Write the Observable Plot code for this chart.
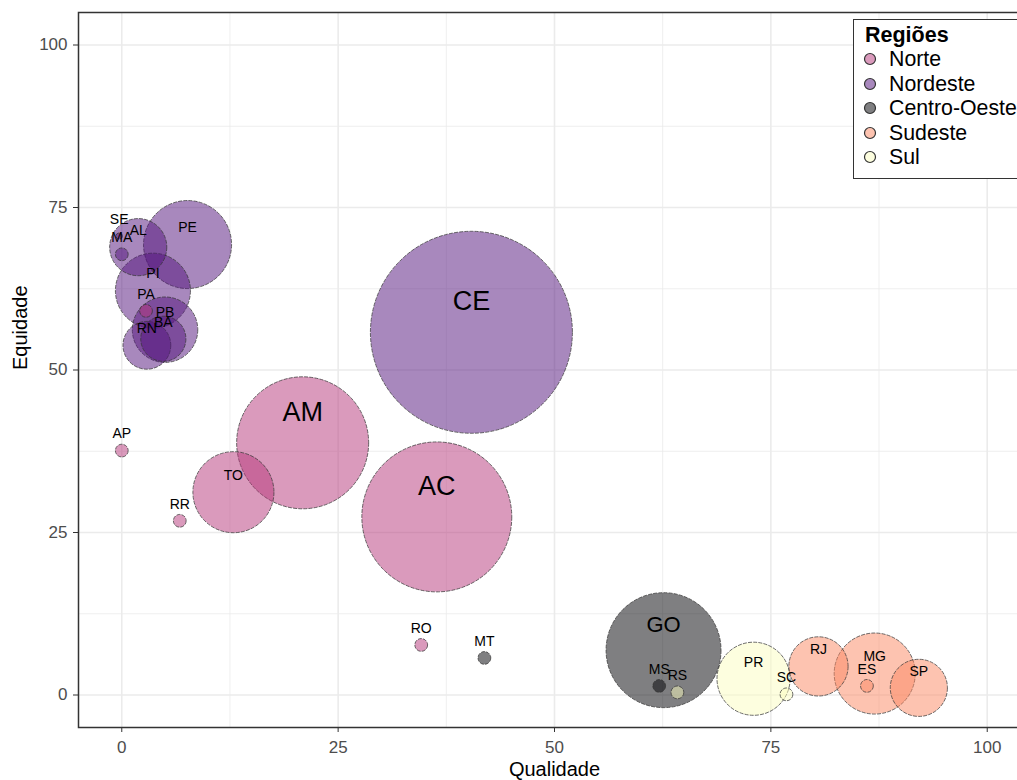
<!DOCTYPE html>
<html>
<head>
<meta charset="utf-8">
<script src="https://cdn.jsdelivr.net/npm/d3@7"></script>
<script src="https://cdn.jsdelivr.net/npm/@observablehq/plot@0.6"></script>
<style>
  html, body { margin: 0; padding: 0; background: white; overflow: hidden; }
  #wrap { position: relative; width: 1045px; height: 780px; font-family: "Liberation Sans", Arial, sans-serif; }
  #wrap svg { max-width: none !important; }
  #legend { position: absolute; left: 853px; top: 19px; width: 320px; height: 160px; border: 1px solid #333; border-right: none; background: white; box-sizing: border-box; }
  #legend .title { font-weight: bold; font-size: 21.5px; line-height: 24px; padding-left: 11px; margin-top: 3px; height: 24px; }
  #legend .row { font-size: 21.3px; line-height: 24.5px; height: 24.5px; display: flex; align-items: center; white-space: nowrap; }
  #legend .row:first-of-type { margin-top: 2px; }
  #legend .row svg { margin-left: 9px; margin-right: 12px; }
</style>
</head>
<body>
<div id="wrap"></div>
<script>
// ---- data ----
const estados   = ["AC","AM","AP","PA","RO","RR","TO","AL","BA","CE","MA","PB","PE","PI","RN","SE","GO","MS","MT","ES","MG","RJ","SP","PR","RS","SC"];
const regioes   = ["Norte","Norte","Norte","Norte","Norte","Norte","Norte",
                   "Nordeste","Nordeste","Nordeste","Nordeste","Nordeste","Nordeste","Nordeste","Nordeste","Nordeste",
                   "Centro-Oeste","Centro-Oeste","Centro-Oeste",
                   "Sudeste","Sudeste","Sudeste","Sudeste",
                   "Sul","Sul","Sul"];
const qualidade = [36.4,20.9,0,2.8,34.6,6.7,12.9, 1.9,4.8,40.4,0,5.0,7.6,3.6,2.9,-0.3, 62.6,62.1,41.9, 86.1,87.0,80.5,92.1, 73.0,64.2,76.8];
const equidade  = [27.4,38.8,37.6,59.1,7.7,26.8,31.2, 68.9,54.8,55.8,67.8,56.2,69.3,62.2,53.8,70.6, 6.9,1.4,5.7, 1.4,3.3,4.4,1.1, 2.5,0.4,0.1];
const tamanho   = [55.1,42.7,0.4,0.4,0.4,0.4,16.1, 8.0,5.0,100,0.4,10.5,19.0,13.8,5.6,0.1, 32.4,0.4,0.4, 0.4,16.1,8.6,8.0, 13.1,0.4,0.4];
const ordemRegioes = ["Norte","Nordeste","Centro-Oeste","Sudeste","Sul"];
const ticksMaiores = [0,25,50,75,100];
const ticksMenores = [12.5,37.5,62.5,87.5];

// ---- styles ----
const paleta = {"Norte":"#B63679","Nordeste":"#51127C","Centro-Oeste":"#000004","Sudeste":"#FB8861","Sul":"#FCFDBF"};
const tamanhoFonte = v => v >= 40 ? 27 : v >= 30 ? 22 : 14;

const dados = estados.map((e, i) => ({estado: e, regiao: regioes[i], qualidade: qualidade[i], equidade: equidade[i], tamanho: tamanho[i]}));

const labelMarks = [14, 22, 27].map(fs =>
  Plot.text(dados.filter(d => tamanhoFonte(d.tamanho) === fs), {
    x: "qualidade", y: "equidade", text: "estado",
    fontSize: fs, dy: -(1.08 * fs + 1.6), fill: "black"
  })
);

const plot = Plot.plot({
  width: 1045, height: 780,
  marginTop: 12, marginBottom: 53, marginLeft: 78, marginRight: 15,
  x: {domain: [-5, 105], label: null},
  y: {domain: [-5, 105], label: null},
  r: {type: "sqrt", domain: [0, 100], range: [0, 101]},
  color: {domain: ordemRegioes, range: ordemRegioes.map(r => paleta[r])},
  style: {fontFamily: "'Liberation Sans', Arial, sans-serif", background: "white", color: "#333"},
  marks: [
    Plot.gridX(ticksMenores, {stroke: "#EBEBEB", strokeOpacity: 1, strokeWidth: 0.8}),
    Plot.gridY(ticksMenores, {stroke: "#EBEBEB", strokeOpacity: 1, strokeWidth: 0.8}),
    Plot.gridX(ticksMaiores, {stroke: "#EBEBEB", strokeOpacity: 1, strokeWidth: 1.6}),
    Plot.gridY(ticksMaiores, {stroke: "#EBEBEB", strokeOpacity: 1, strokeWidth: 1.6}),
    Plot.dot(dados, {
      x: "qualidade", y: "equidade", r: "tamanho", fill: "regiao",
      fillOpacity: 0.5, stroke: "#333", strokeOpacity: 0.8, strokeWidth: 0.9, strokeDasharray: "4,1.2"
    }),
    ...labelMarks,
    Plot.axisX(ticksMaiores, {tickSize: 5, tickPadding: 8, fontSize: 17, fill: "#4D4D4D", stroke: "#333", label: null}),
    Plot.axisY(ticksMaiores, {tickSize: 5, tickPadding: 6, fontSize: 17, fill: "#4D4D4D", stroke: "#333", label: null}),
    Plot.text(["Qualidade"], {frameAnchor: "bottom", dy: 48, fontSize: 20, fill: "black"}),
    Plot.text(["Equidade"], {frameAnchor: "left", dx: -58, rotate: -90, fontSize: 20, fill: "black"}),
    Plot.frame({stroke: "#333", strokeWidth: 1.5})
  ]
});

const wrap = document.getElementById("wrap");
wrap.appendChild(plot);

// legend
const leg = document.createElement("div");
leg.id = "legend";
let html = '<div class="title">Regiões</div>';
for (const r of ordemRegioes) {
  html += `<div class="row"><svg width="14" height="14"><circle cx="7" cy="7" r="5.5" fill="${paleta[r]}" fill-opacity="0.5" stroke="#333" stroke-width="1.2"/></svg><span>${r}</span></div>`;
}
leg.innerHTML = html;
wrap.appendChild(leg);
</script>
</body>
</html>
